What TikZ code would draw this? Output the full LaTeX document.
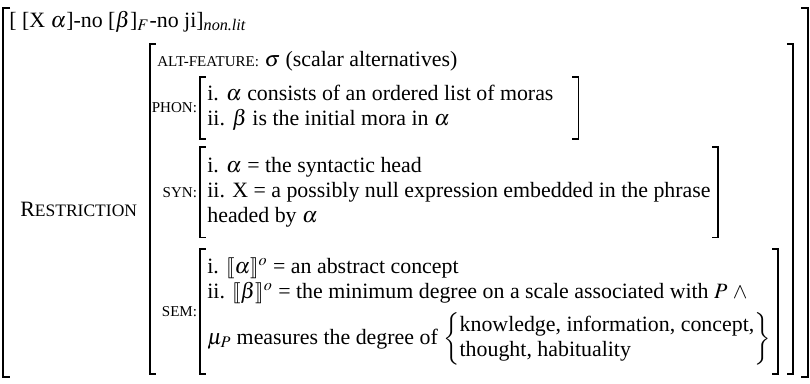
\documentclass[tikz,border=0pt]{standalone}
\usepackage{amsmath}
\usepackage{mathptmx}
\usepackage{stmaryrd}
\usepackage{fontspec}
\setmainfont{Liberation Serif}
\usetikzlibrary{positioning}
\newcommand\fsc[1]{{\fontsize{8.6}{10}\selectfont #1}}

\begin{document}
\begin{tikzpicture}[x=0.5714pt,y=0.5714pt,font=\fontsize{12.5}{14.4}\selectfont,
  line/.style={anchor=base west,inner sep=0pt},
  lab/.style={inner sep=0pt},
  block/.style={anchor=north west,align=left,inner xsep=4pt,inner ysep=3pt},
  brk/.style={line width=0.7pt}]
\useasboundingbox (0,0) rectangle (810,-383);
% the construction and the outer bracket
\node[line] (head) at (9,-27) {[ [X $\alpha$]-no [$\beta$]$_F$-no ji]$_{\textit{non.lit}}$};
\draw[brk] (10,-8) -| (3,-377) -- ++(7,0);
\draw[brk] (801,-8) -| (808,-377) -- ++(-7,0);
% restriction: one plain line, then three bracketed values
\node[line] (alt) at (157,-66) {\fsc{ALT-FEATURE:} $\sigma$ (scalar alternatives)};
\node[block,minimum height=35pt] (phon) at (200,-77) {i. $\alpha$ consists of an ordered list of moras\hspace*{10pt}\\ii. $\beta$ is the initial mora in $\alpha$};
\node[block,minimum height=51.5pt] (syn) at (200,-147) {i. $\alpha$ = the syntactic head\\ii. X = a possibly null expression embedded in the phrase\\headed by $\alpha$};
\node[block,minimum height=71pt] (sem) at (200,-249) {i. $\llbracket\alpha\rrbracket^o$ = an abstract concept\\ii. $\llbracket\beta\rrbracket^o$ = the minimum degree on a scale associated with $P$ $\wedge$\\[4pt]$\mu_P$ measures the degree of $\left\{\begin{tabular}{@{}l@{}}knowledge, information, concept,\\thought, habituality\end{tabular}\right\}$};
\foreach \b/\t in {phon/PHON:,syn/SYN:,sem/SEM:}
  \node[lab,left=1.5pt of \b] (\b-lab) {\fsc{\t}};
\foreach \b in {phon,syn,sem}{
  \draw[brk] ([xshift=3.4pt]\b.north west) -| (\b.south west) -- ++(6,0);
  \draw[brk] ([xshift=-3.4pt]\b.north east) -| (\b.south east) -- ++(-6,0);}
% brackets round the restriction
\coordinate (rtop) at (150,-44);
\coordinate (rbot) at (150,-374);
\coordinate (rright) at ([xshift=8.5pt]sem.east);
\draw[brk] ([xshift=3.4pt]rtop) -- (rtop) -- (rbot) -- ++(6,0);
\draw[brk] ([xshift=-3.4pt]rright |- rtop) -- (rright |- rtop) -- (rright |- rbot) -- ++(-6,0);
\node[lab,anchor=west] (restr) at (20,-209) {R{\fontsize{10}{12}\selectfont ESTRICTION}};
\end{tikzpicture}
\end{document}
